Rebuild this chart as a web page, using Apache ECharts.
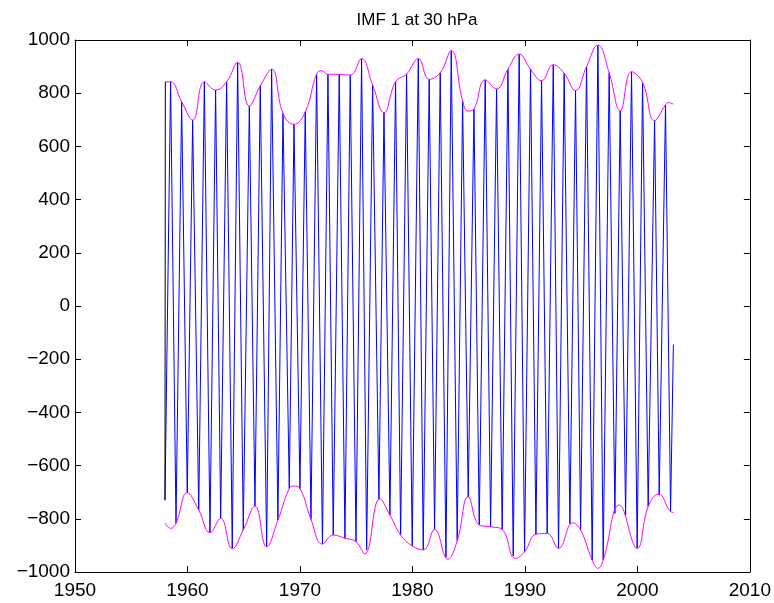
<!DOCTYPE html>
<html>
<head>
<meta charset="utf-8">
<title>IMF 1 at 30 hPa</title>
<script src="https://cdn.jsdelivr.net/npm/echarts@6/dist/echarts.min.js"></script>
<style>
  html, body { margin: 0; padding: 0; background: #fff; }
  #chart { width: 774px; height: 603px; }
</style>
</head>
<body>
<div id="chart"></div>
<script>
// IMF 1 values, peak / trough turning points
const imfYears = [
  1958.0, 1958.5, 1958.98, 1959.48, 1959.98, 1960.46, 1961.0, 1961.5, 1962.0, 1962.5,
  1962.95, 1963.48, 1963.98, 1964.46, 1964.96, 1965.5, 1966.0, 1966.47, 1967.04, 1967.48,
  1968.04, 1968.49, 1969.05, 1969.47, 1970.0, 1970.47, 1970.98, 1971.48, 1972.0, 1972.49,
  1972.96, 1973.49, 1974.0, 1974.47, 1974.98, 1975.48, 1975.93, 1976.46, 1977.02, 1977.47,
  1978.0, 1978.5, 1978.95, 1979.48, 1979.98, 1980.52, 1980.96, 1981.49, 1981.97, 1982.47,
  1982.98, 1983.45, 1983.98, 1984.46, 1984.96, 1985.47, 1985.94, 1986.47, 1986.95, 1987.48,
  1987.98, 1988.49, 1988.96, 1989.49, 1989.97, 1990.5, 1990.98, 1991.48, 1991.98, 1992.52,
  1992.99, 1993.49, 1994.0, 1994.5, 1994.95, 1995.48, 1995.98, 1996.49, 1996.96, 1997.49,
  1998.0, 1998.47, 1998.95, 1999.48, 1999.98, 2000.46, 2000.96, 2001.53, 2001.94, 2002.5,
  2002.95, 2003.2
];
const imfValues = [
  -730, 843, -817, 768, -702, 699, -767, 843, -852, 812,
  -798, 843, -911, 916, -842, 752, -752, 827, -905, 890,
  -805, 724, -686, 683, -686, 730, -802, 872, -895, 871,
  -861, 871, -873, 868, -886, 930, -917, 831, -727, 727,
  -786, 843, -861, 872, -902, 930, -917, 852, -840, 877,
  -945, 960, -882, 771, -719, 741, -823, 850, -830, 816,
  -840, 890, -940, 947, -924, 890, -858, 847, -855, 907,
  -911, 875, -818, 810, -842, 900, -955, 981, -955, 877,
  -780, 734, -786, 881, -911, 840, -754, 697, -711, 756,
  -773, -145
];

// first rise, drawn in black
const rawYears = [1958.0, 1958.03];
const rawValues = [-730, 843];

// upper envelope
const upperYears = [
  1958.0, 1958.5, 1959.48, 1960.46, 1961.5, 1962.5, 1963.48, 1964.46, 1965.5, 1966.47,
  1967.48, 1968.49, 1969.47, 1970.47, 1971.48, 1971.9, 1972.49, 1973.49, 1974.47, 1975.48,
  1976.46, 1977.47, 1978.5, 1979.48, 1980.52, 1981.49, 1982.47, 1983.45, 1984.46, 1984.95,
  1985.47, 1986.47, 1987.48, 1988.49, 1989.49, 1990.5, 1991.48, 1992.52, 1993.49, 1994.5,
  1995.48, 1996.49, 1997.49, 1998.47, 1999.48, 2000.46, 2001.53, 2002.5, 2002.7, 2003.2
];
const upperValues = [
  843, 843, 768, 699, 843, 812, 843, 916, 752, 827,
  890, 724, 683, 730, 872, 885, 871, 871, 868, 930,
  831, 727, 843, 872, 930, 852, 877, 960, 771, 733,
  741, 850, 816, 890, 947, 890, 847, 907, 875, 810,
  900, 981, 877, 734, 881, 840, 697, 756, 765, 759
];

// lower envelope
const lowerYears = [
  1958.0, 1958.5, 1958.98, 1959.98, 1961.0, 1962.0, 1962.95, 1963.98, 1964.96, 1966.0,
  1967.04, 1968.04, 1969.05, 1969.45, 1970.0, 1970.98, 1972.0, 1972.96, 1974.0, 1974.98,
  1975.75, 1977.1, 1978.0, 1978.95, 1979.98, 1980.96, 1981.97, 1983.15, 1983.98, 1984.96,
  1985.94, 1986.95, 1987.98, 1989.15, 1989.97, 1990.98, 1991.98, 1992.99, 1994.25, 1994.95,
  1995.98, 1996.5, 1996.96, 1998.4, 1999.98, 2000.96, 2001.9, 2002.95, 2003.2
];
const lowerValues = [
  -816, -836, -817, -702, -767, -852, -798, -913, -842, -752,
  -905, -805, -686, -677, -686, -802, -895, -861, -873, -886,
  -932, -725, -786, -861, -902, -917, -840, -952, -882, -717,
  -823, -830, -840, -949, -924, -858, -855, -911, -815, -842,
  -955, -986, -955, -748, -911, -754, -707, -773, -776
];

const xTicks = { min: 1950, max: 2010, interval: 10 };
const yTicks = { min: -1000, max: 1000, interval: 200 };

function pairs(xs, ys) {
  return xs.map((x, i) => [x, ys[i]]);
}

function minusSign(val) {
  return String(val).replace('-', '\u2212');
}

const font = 'Liberation Sans, Arial, sans-serif';
const axisLine = { show: true, onZero: false, lineStyle: { color: '#000', width: 1 } };
const axisTick = { show: true, inside: true, length: 6, lineStyle: { color: '#000', width: 1 } };

const chart = echarts.init(document.getElementById('chart'), null, { renderer: 'canvas' });

chart.setOption({
  animation: false,
  backgroundColor: '#fff',
  title: {
    text: 'IMF 1 at 30 hPa',
    left: 412,
    top: 7,
    textAlign: 'center',
    textStyle: { fontFamily: font, fontSize: 17, fontWeight: 'normal', color: '#000' }
  },
  grid: { left: 75, right: 24, top: 40, bottom: 31, containLabel: false },
  xAxis: [
    {
      type: 'value',
      position: 'bottom',
      min: xTicks.min, max: xTicks.max, interval: xTicks.interval,
      axisLine: axisLine,
      axisTick: axisTick,
      splitLine: { show: false },
      axisLabel: {
        show: true, margin: 9, color: '#000', fontFamily: font, fontSize: 19,
        formatter: val => String(val)
      }
    },
    {
      type: 'value',
      position: 'top',
      min: xTicks.min, max: xTicks.max, interval: xTicks.interval,
      axisLine: axisLine,
      axisTick: axisTick,
      splitLine: { show: false },
      axisLabel: { show: false }
    }
  ],
  yAxis: [
    {
      type: 'value',
      position: 'left',
      min: yTicks.min, max: yTicks.max, interval: yTicks.interval,
      axisLine: axisLine,
      axisTick: axisTick,
      splitLine: { show: false },
      axisLabel: {
        show: true, margin: 5, color: '#000', fontFamily: font, fontSize: 19,
        formatter: minusSign
      }
    },
    {
      type: 'value',
      position: 'right',
      min: yTicks.min, max: yTicks.max, interval: yTicks.interval,
      axisLine: axisLine,
      axisTick: axisTick,
      splitLine: { show: false },
      axisLabel: { show: false }
    }
  ],
  series: [
    {
      name: 'IMF 1',
      type: 'line',
      data: pairs(imfYears, imfValues),
      showSymbol: false,
      lineStyle: { color: '#0000ff', width: 1 },
      z: 2
    },
    {
      name: 'raw',
      type: 'line',
      data: pairs(rawYears, rawValues),
      showSymbol: false,
      lineStyle: { color: '#000', width: 1 },
      z: 3
    },
    {
      name: 'upper',
      type: 'line',
      data: pairs(upperYears, upperValues),
      smooth: 0.45,
      showSymbol: false,
      lineStyle: { color: '#ff00ff', width: 1 },
      z: 4
    },
    {
      name: 'lower',
      type: 'line',
      data: pairs(lowerYears, lowerValues),
      smooth: 0.45,
      showSymbol: false,
      lineStyle: { color: '#ff00ff', width: 1 },
      z: 4
    }
  ]
});
</script>
</body>
</html>
